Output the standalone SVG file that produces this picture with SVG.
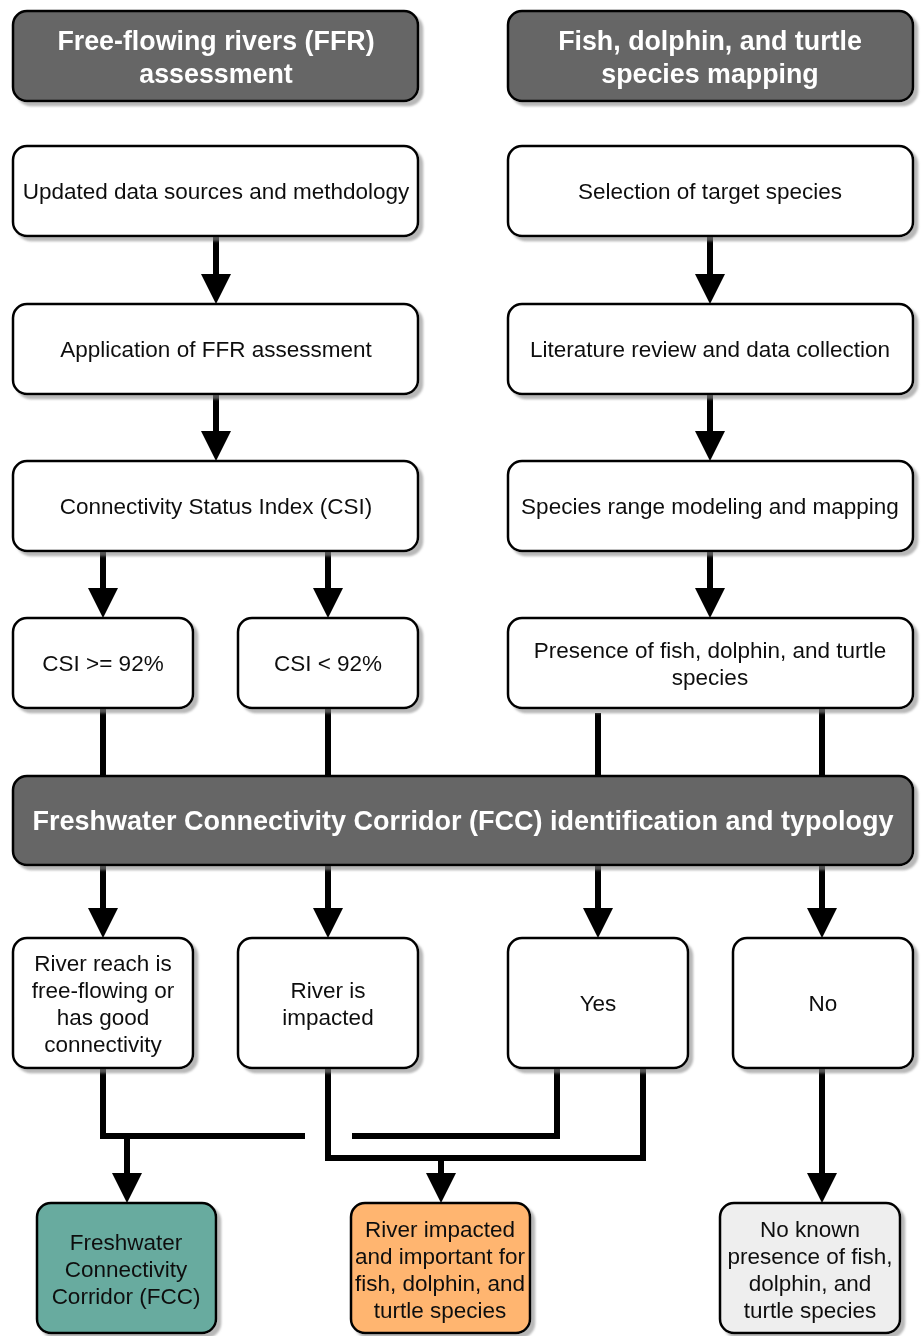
<svg xmlns="http://www.w3.org/2000/svg" width="921" height="1336" viewBox="0 0 921 1336">
<style>
.box{stroke:#000;stroke-width:2.5}
.w{fill:#fff}
.hd{fill:#666666}
.t{font-family:"Liberation Sans",Arial,sans-serif;font-size:22.5px;fill:#111;text-anchor:middle}
.h{font-family:"Liberation Sans",Arial,sans-serif;font-size:26.8px;font-weight:bold;fill:#fff;text-anchor:middle}
.c{fill:none;stroke:#000;stroke-width:6}
</style>
<defs>
<filter id="sh" x="-5%" y="-5%" width="115%" height="125%">
<feDropShadow dx="4" dy="4" stdDeviation="1" flood-color="#888" flood-opacity="0.6"/>
</filter>
<marker id="ah" viewBox="0 0 30 30" refX="0" refY="15" markerWidth="30" markerHeight="30" markerUnits="userSpaceOnUse" orient="auto">
<path d="M0,0 L30,15 L0,30 z" fill="#000"/>
</marker>
</defs>

<g id="connectors">
<path class="c" d="M216,236 V274" marker-end="url(#ah)"/>
<path class="c" d="M216,394 V431" marker-end="url(#ah)"/>
<path class="c" d="M103,551 V588" marker-end="url(#ah)"/>
<path class="c" d="M328,551 V588" marker-end="url(#ah)"/>
<path class="c" d="M710,236 V274" marker-end="url(#ah)"/>
<path class="c" d="M710,394 V431" marker-end="url(#ah)"/>
<path class="c" d="M710,551 V588" marker-end="url(#ah)"/>
<path class="c" d="M103,708 V776"/>
<path class="c" d="M328,708 V776"/>
<path class="c" d="M598,713 V776"/>
<path class="c" d="M822,708 V776"/>
<path class="c" d="M103,865 V908" marker-end="url(#ah)"/>
<path class="c" d="M328,865 V908" marker-end="url(#ah)"/>
<path class="c" d="M598,865 V908" marker-end="url(#ah)"/>
<path class="c" d="M822,865 V908" marker-end="url(#ah)"/>
<path class="c" d="M103,1068 V1136 H305"/>
<path class="c" d="M127,1136 V1173" marker-end="url(#ah)"/>
<path class="c" d="M352,1136 H557 V1068"/>
<path class="c" d="M328,1068 V1158 H643 V1068"/>
<path class="c" d="M441,1158 V1173" marker-end="url(#ah)"/>
<path class="c" d="M822,1068 V1173" marker-end="url(#ah)"/>
</g>

<g id="ffr-header" filter="url(#sh)">
<rect class="box hd" x="13" y="11" width="405" height="90" rx="14"/>
<text class="h" x="216" y="50">Free-flowing rivers (FFR)</text>
<text class="h" x="216" y="83">assessment</text>
</g>
<g id="species-header" filter="url(#sh)">
<rect class="box hd" x="508" y="11" width="405" height="90" rx="14"/>
<text class="h" x="710" y="50">Fish, dolphin, and turtle</text>
<text class="h" x="710" y="83">species mapping</text>
</g>

<g id="updated-data" filter="url(#sh)">
<rect class="box w" x="13" y="146" width="405" height="90" rx="14"/>
<text class="t" x="216" y="199">Updated data sources and methdology</text>
</g>
<g id="selection" filter="url(#sh)">
<rect class="box w" x="508" y="146" width="405" height="90" rx="14"/>
<text class="t" x="710" y="199">Selection of target species</text>
</g>

<g id="application" filter="url(#sh)">
<rect class="box w" x="13" y="304" width="405" height="90" rx="14"/>
<text class="t" x="216" y="357">Application of FFR assessment</text>
</g>
<g id="literature" filter="url(#sh)">
<rect class="box w" x="508" y="304" width="405" height="90" rx="14"/>
<text class="t" x="710" y="357">Literature review and data collection</text>
</g>

<g id="csi" filter="url(#sh)">
<rect class="box w" x="13" y="461" width="405" height="90" rx="14"/>
<text class="t" x="216" y="514">Connectivity Status Index (CSI)</text>
</g>
<g id="range" filter="url(#sh)">
<rect class="box w" x="508" y="461" width="405" height="90" rx="14"/>
<text class="t" x="710" y="514">Species range modeling and mapping</text>
</g>

<g id="csi-high" filter="url(#sh)">
<rect class="box w" x="13" y="618" width="180" height="90" rx="14"/>
<text class="t" x="103" y="671">CSI &gt;= 92%</text>
</g>
<g id="csi-low" filter="url(#sh)">
<rect class="box w" x="238" y="618" width="180" height="90" rx="14"/>
<text class="t" x="328" y="671">CSI &lt; 92%</text>
</g>
<g id="presence" filter="url(#sh)">
<rect class="box w" x="508" y="618" width="405" height="90" rx="14"/>
<text class="t" x="710" y="658">Presence of fish, dolphin, and turtle</text>
<text class="t" x="710" y="685">species</text>
</g>

<g id="fcc-bar" filter="url(#sh)">
<rect class="box hd" x="13" y="776" width="900" height="89" rx="14"/>
<text class="h" x="463" y="830" style="font-size:27px">Freshwater Connectivity Corridor (FCC) identification and typology</text>
</g>

<g id="free-flowing" filter="url(#sh)">
<rect class="box w" x="13" y="938" width="180" height="130" rx="14"/>
<text class="t" x="103" y="971">River reach is</text>
<text class="t" x="103" y="998">free-flowing or</text>
<text class="t" x="103" y="1025">has good</text>
<text class="t" x="103" y="1052">connectivity</text>
</g>
<g id="impacted" filter="url(#sh)">
<rect class="box w" x="238" y="938" width="180" height="130" rx="14"/>
<text class="t" x="328" y="998">River is</text>
<text class="t" x="328" y="1025">impacted</text>
</g>
<g id="yes" filter="url(#sh)">
<rect class="box w" x="508" y="938" width="180" height="130" rx="14"/>
<text class="t" x="598" y="1011">Yes</text>
</g>
<g id="no" filter="url(#sh)">
<rect class="box w" x="733" y="938" width="180" height="130" rx="14"/>
<text class="t" x="823" y="1011">No</text>
</g>

<g id="fcc" filter="url(#sh)">
<rect class="box" fill="#67AB9F" x="37" y="1203" width="179" height="130" rx="14"/>
<text class="t" x="126" y="1250">Freshwater</text>
<text class="t" x="126" y="1277">Connectivity</text>
<text class="t" x="126" y="1304">Corridor (FCC)</text>
</g>
<g id="impacted-important" filter="url(#sh)">
<rect class="box" fill="#FFB570" x="351" y="1203" width="179" height="130" rx="14"/>
<text class="t" x="440" y="1237">River impacted</text>
<text class="t" x="440" y="1264">and important for</text>
<text class="t" x="440" y="1291">fish, dolphin, and</text>
<text class="t" x="440" y="1318">turtle species</text>
</g>
<g id="no-known" filter="url(#sh)">
<rect class="box" fill="#EEEEEE" x="720" y="1203" width="180" height="130" rx="14"/>
<text class="t" x="810" y="1237">No known</text>
<text class="t" x="810" y="1264">presence of fish,</text>
<text class="t" x="810" y="1291">dolphin, and</text>
<text class="t" x="810" y="1318">turtle species</text>
</g>
</svg>
